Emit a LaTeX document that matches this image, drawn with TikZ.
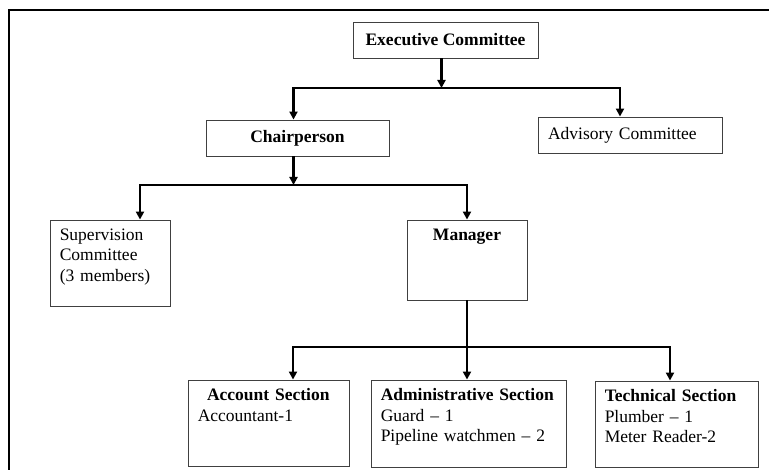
\documentclass[tikz,border=0pt]{standalone}
\usepackage{fontspec}
\setmainfont{Liberation Serif}
\usepackage{tikz}
\usetikzlibrary{arrows.meta}
\usetikzlibrary{positioning}

\begin{document}
\begin{tikzpicture}[x=1pt,y=-1pt,
  font=\fontsize{17.5pt}{20.5pt}\selectfont,
  box/.style={draw=black!75,line width=0.9pt,inner xsep=10pt,inner ysep=0pt},
  inbox/.style={inner xsep=10pt,inner ysep=9pt,align=left},
  arr/.style={->,>={Triangle[length=8pt,width=8pt]},line width=2.2pt},
  wire/.style={line width=2.2pt}]
\useasboundingbox (0,0) rectangle (769,470);
\draw[line width=1.4pt] (769,10) -- (9,10) -- (9,470);
% committees
\node[box,minimum width=185pt,minimum height=36pt] (exec) at (445.5,40) {\textbf{Executive Committee}};
\node[box,minimum width=183pt,minimum height=36pt] (chair) at (297.5,138) {\textbf{Chairperson}};
\node[box,minimum height=36pt,text width=164pt,align=left] (adv) at (630,135) {Advisory Committee};
\node[box,minimum width=120pt,minimum height=86pt,
  label={[inbox,text width=100pt,anchor=north west]north west:{Supervision\\Committee\\(3 members)}}] (sup) at (110,263) {};
\node[box,minimum width=120pt,minimum height=80pt,
  label={[inbox,anchor=north]north:\textbf{Manager}}] (mgr) at (467,260) {};
% sections
\node[box,minimum width=161pt,minimum height=86pt,
  label={[inbox,text width=141pt,anchor=north west]north west:{\hspace*{\fill}\textbf{Account Section}\hspace*{\fill}\null\\Accountant-1}}] (acct) at (268.5,423) {};
\node[box,minimum width=195pt,minimum height=87pt,
  label={[inbox,text width=175pt,anchor=north west]north west:{\textbf{Administrative Section}\\Guard -- 1\\Pipeline watchmen -- 2}}] (admin) at (468.5,423.5) {};
\node[box,minimum width=163pt,minimum height=86pt,
  label={[inbox,text width=143pt,anchor=north west]north west:{\textbf{Technical Section}\\Plumber -- 1\\Meter Reader-2}}] (tech) at (676.5,424) {};
% bars
\coordinate (barA) at (0,88);
\coordinate (barB) at (0,185);
\coordinate (barC) at (0,347);
\draw[arr] ([xshift=-4pt]exec.south) -- ([xshift=-4pt]exec.south |- barA);
\draw[arr] ([xshift=-4pt]exec.south |- barA) -| ([xshift=-4pt]chair.north);
\draw[arr] ([xshift=-4pt]exec.south |- barA) -| ([xshift=-10pt]adv.north);
\draw[arr] ([xshift=-4pt]chair.south) -- ([xshift=-4pt]chair.south |- barB);
\draw[arr] ([xshift=-4pt]chair.south |- barB) -| ([xshift=30pt]sup.north);
\draw[arr] ([xshift=-4pt]chair.south |- barB) -| (mgr.north);
\draw[arr] (mgr.south) -- (mgr.south |- admin.north);
\draw[arr] (mgr.south |- barC) -| ([xshift=24.5pt]acct.north);
\draw[arr] (mgr.south |- barC) -| ([xshift=-6.5pt]tech.north);
\end{tikzpicture}
\end{document}
